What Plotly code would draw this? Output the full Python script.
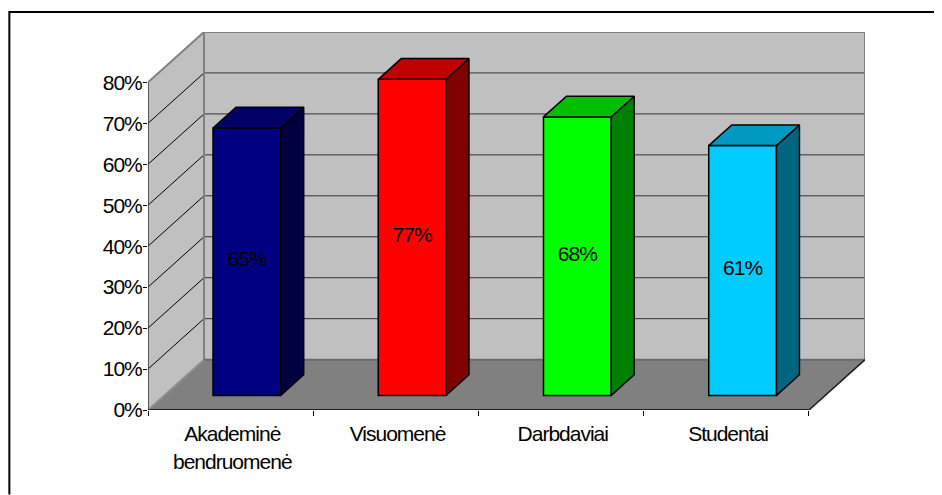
import plotly.graph_objects as go

categories = ["Akademinė<br>bendruomenė", "Visuomenė", "Darbdaviai", "Studentai"]
values = [65.3, 77.2, 68.0, 61.0]
value_labels = ["65%", "77%", "68%", "61%"]
y_ticks = [0, 10, 20, 30, 40, 50, 60, 70, 80]
y_labels = ["0%", "10%", "20%", "30%", "40%", "50%", "60%", "70%", "80%"]
front_colors = ["#000080", "#FF0000", "#00FF00", "#00CCFF"]
top_colors = ["#000066", "#C00000", "#00BF00", "#0099C0"]
side_colors = ["#000040", "#800000", "#008000", "#006680"]

PAGE = 8  # default page margin of the browser
W, H = 942, 495
L, R, T, B = 147.7 - PAGE, 77.0 + PAGE, 32.1 - PAGE, 84.5 + PAGE
plot_w, plot_h = W - L - R, H - T - B
DEPTH_X = 0.339   # category units
DEPTH_Y = 12.3    # axis percent
Y_MAX = 80 + DEPTH_Y
X_MAX = 4 + DEPTH_X
BAR_W = 0.41
NEAR, FAR = 0.29, 0.70   # position of bars within depth
LABEL_LIFT = 0.2
LINE = "#000000"
FONT = dict(family="Liberation Sans, Arial, sans-serif", size=21, color="#000000")

n = len(categories)
shapes = []


def poly(xs, ys, fill, line_color=None, width=1):
    path = "M" + " L".join(f"{x},{y}" for x, y in zip(xs, ys)) + " Z"
    shapes.append(dict(type="path", path=path, xref="x", yref="y", layer="below",
                       fillcolor=fill, line=dict(color=line_color or fill, width=width)))


def seg(x0, y0, x1, y1, color, width=1, layer="below"):
    shapes.append(dict(type="line", x0=x0, y0=y0, x1=x1, y1=y1, xref="x", yref="y",
                       layer=layer, line=dict(color=color, width=width)))


# walls and floor
poly([0, DEPTH_X, DEPTH_X, 0], [0, DEPTH_Y, 80 + DEPTH_Y, 80], "#C0C0C0")
poly([DEPTH_X, n + DEPTH_X, n + DEPTH_X, DEPTH_X], [DEPTH_Y, DEPTH_Y, 80 + DEPTH_Y, 80 + DEPTH_Y], "#C0C0C0")
poly([0, n, n + DEPTH_X, DEPTH_X], [0, 0, DEPTH_Y, DEPTH_Y], "#808080")

# gridlines
for t in y_ticks[1:-1]:
    seg(0, t, DEPTH_X, t + DEPTH_Y, "#000000", 1)
    seg(DEPTH_X, t + DEPTH_Y, n + DEPTH_X, t + DEPTH_Y, "#333333", 1)

# wall outlines
seg(0, 80, DEPTH_X, 80 + DEPTH_Y, "#808080", 2)
seg(DEPTH_X, 80 + DEPTH_Y, n + DEPTH_X, 80 + DEPTH_Y, "#808080", 2)
seg(n + DEPTH_X, DEPTH_Y, n + DEPTH_X, 80 + DEPTH_Y, "#808080", 2)
seg(DEPTH_X, DEPTH_Y, DEPTH_X, 80 + DEPTH_Y, "#808080", 2)
seg(DEPTH_X, DEPTH_Y, n + DEPTH_X, DEPTH_Y, "#6A6A6A", 2)
seg(0, 0, DEPTH_X, DEPTH_Y, "#909090", 2)
# axes
seg(0, 0, 0, 80, "#333333", 1.5)
seg(0, 0, n, 0, "#202020", 2)
seg(n, 0, n + DEPTH_X, DEPTH_Y, "#202020", 1.5)

# frame, in paper coordinates (page pixel positions minus the page margin)
def px(x):
    return (x - PAGE - L) / plot_w


def py(y):
    return (H - B - (y - PAGE)) / plot_h


for x0, y0, x1, y1 in [(8.5, 12, 942, 12), (9, 11, 9, 495)]:
    shapes.append(dict(type="line", xref="paper", yref="paper", x0=px(x0), x1=px(x1),
                       y0=py(y0), y1=py(y1), line=dict(color="#000000", width=2)))

fig = go.Figure()
centers = [i + 0.5 + NEAR * DEPTH_X for i in range(n)]
base = NEAR * DEPTH_Y
bar_dx = (FAR - NEAR) * DEPTH_X
bar_dy = (FAR - NEAR) * DEPTH_Y

fig.add_trace(go.Bar(
    x=centers, y=values, base=[base] * n, width=BAR_W,
    marker=dict(color=front_colors, line=dict(color=LINE, width=1.5)),
    hoverinfo="skip", showlegend=False,
))

for c, v, tc, sc in zip(centers, values, top_colors, side_colors):
    x0, x1 = c - BAR_W / 2, c + BAR_W / 2
    y0, y1 = base, base + v
    fig.add_trace(go.Scatter(
        x=[x1, x1 + bar_dx, x1 + bar_dx, x1, x1], y=[y0, y0 + bar_dy, y1 + bar_dy, y1, y0],
        mode="lines", fill="toself", fillcolor=sc, line=dict(color=LINE, width=1.5),
        hoverinfo="skip", showlegend=False))
    fig.add_trace(go.Scatter(
        x=[x0, x1, x1 + bar_dx, x0 + bar_dx, x0], y=[y1, y1, y1 + bar_dy, y1 + bar_dy, y1],
        mode="lines", fill="toself", fillcolor=tc, line=dict(color=LINE, width=1.5),
        hoverinfo="skip", showlegend=False))

fig.add_trace(go.Scatter(
    x=centers, y=[base + v / 2 + LABEL_LIFT for v in values], text=value_labels,
    mode="text", textposition="middle center", textfont=FONT,
    hoverinfo="skip", showlegend=False))

fig.update_layout(
    width=W, height=H, paper_bgcolor="#FFFFFF", plot_bgcolor="#FFFFFF",
    margin=dict(l=L, r=R, t=T, b=B, pad=0), shapes=shapes, font=FONT, showlegend=False,
    xaxis=dict(range=[0, X_MAX], tickmode="array", tickvals=[i + 0.51 for i in range(n)],
               ticktext=categories, ticks="outside", ticklen=0, tickwidth=0, showgrid=False, zeroline=False,
               showline=False, tickfont=FONT, tickangle=0, ticklabelstandoff=5,
               minor=dict(tickmode="array", tickvals=list(range(n + 1)), ticks="outside",
                          ticklen=5, tickcolor="#000000", tickwidth=1, showgrid=False)),
    yaxis=dict(range=[0, Y_MAX], tickmode="array", tickvals=y_ticks, ticktext=y_labels,
               ticks="outside", ticklen=4, tickcolor="#000000", tickwidth=1, showgrid=False,
               zeroline=False, showline=False, tickfont=FONT, ticklabelstandoff=-3),
)

TIGHT_TEXT = "document.querySelectorAll('.main-svg text').forEach(function(t){t.style.letterSpacing='-1px';});"
fig.write_html("out.html", post_script=TIGHT_TEXT)
